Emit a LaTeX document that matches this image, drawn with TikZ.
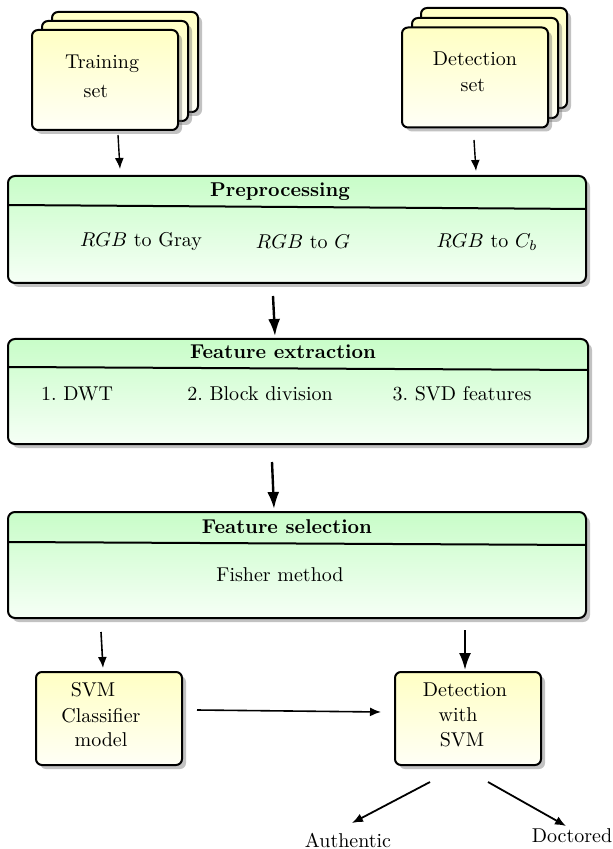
\documentclass[tikz,border=0pt]{standalone}
\usepackage{fontspec}
\usetikzlibrary{shadows,arrows.meta}
\definecolor{ytop}{HTML}{FFFFC4}
\definecolor{ybot}{HTML}{FFFFF6}
\definecolor{gtop}{HTML}{C8FDC8}
\definecolor{gbot}{HTML}{F6FFF6}
\tikzset{
  shad/.style={drop shadow={shadow xshift=2pt, shadow yshift=-2pt, opacity=0.4, fill=black!60}},
  ybox/.style={draw, line width=1pt, rounded corners=3pt, top color=ytop, bottom color=ybot, minimum width=73pt, minimum height=50pt, inner sep=0pt, shad},
  gbox/.style={draw, line width=1pt, rounded corners=3.5pt, top color=gtop, bottom color=gbot, inner sep=0pt, shad},
  txt/.style={inner sep=0pt},
  divl/.style={line width=1pt},
  thinarr/.style={-{Latex[length=5.5pt,width=4.5pt]}, line width=0.7pt},
  thickarr/.style={-{Latex[length=8.5pt,width=6pt]}, line width=1.2pt},
}
\begin{document}
\begin{tikzpicture}[x=0.5pt,y=-0.5pt]
\useasboundingbox (0,0) rectangle (613,849);
% training stack
\node[ybox] (tr3) at (125,62) {};
\node[ybox] (tr2) at (115,71) {};
\node[ybox] (tr1) at (105,80) {};
\node[txt] (trA) at (102,64) {Training};
\node[txt] (trB) at (96,91) {set};
% detection stack
\node[ybox] (de3) at (494,58) {};
\node[ybox] (de2) at (485,68) {};
\node[ybox] (de1) at (475,77.5) {};
\node[txt] (deA) at (475,59) {Detection};
\node[txt] (deB) at (473,85) {set};
% preprocessing
\node[gbox, minimum width=289pt, minimum height=53.5pt] (pre) at (297,229.5) {};
\coordinate (preL) at (8,205);
\coordinate (preR) at (586,209);
\draw[divl] (preL) -- (preR);
\node[txt] (preT) at (280,192) {\textbf{Preprocessing}};
\node[txt] (p1) at (141,242) {$RGB$ to Gray};
\node[txt] (p2) at (303,242) {$RGB$ to $G$};
\node[txt] (p3) at (487,242) {$RGB$ to $C_b$};
% feature extraction
\node[gbox, minimum width=290pt, minimum height=52.5pt] (fex) at (298,391.5) {};
\coordinate (fexL) at (8,367);
\coordinate (fexR) at (588,370);
\draw[divl] (fexL) -- (fexR);
\node[txt] (fexT) at (283,352) {\textbf{Feature extraction}};
\node[txt] (f1) at (77,394) {1.~DWT};
\node[txt] (f2) at (260,394) {2.~Block division};
\node[txt] (f3) at (462,394) {3.~SVD features};
% feature selection
\node[gbox, minimum width=289pt, minimum height=53pt] (fse) at (297,565) {};
\coordinate (fseL) at (8,542);
\coordinate (fseR) at (586,545);
\draw[divl] (fseL) -- (fseR);
\node[txt] (fseT) at (287,527) {\textbf{Feature selection}};
\node[txt] (s1) at (280,575) {Fisher method};
% bottom boxes
\node[ybox, minimum height=46.5pt] (svm) at (109,718.5) {};
\node[txt] (svA) at (93,690) {SVM};
\node[txt] (svB) at (101,716) {Classifier};
\node[txt] (svC) at (101,740) {model};
\node[ybox, minimum height=46.5pt] (det) at (468,718.5) {};
\node[txt] (dtA) at (465,690) {Detection};
\node[txt] (dtB) at (458,715) {with};
\node[txt] (dtC) at (462,740) {SVM};
\node[txt] (auth) at (348,840) {Authentic};
\node[txt] (doct) at (572,836) {Doctored};
% arrows
\coordinate (a1s) at (118,135); \coordinate (a1e) at (120,169);
\coordinate (a2s) at (474,140); \coordinate (a2e) at (476,171);
\coordinate (a3s) at (273,296); \coordinate (a3e) at (275,336);
\coordinate (a4s) at (272,462); \coordinate (a4e) at (274,509);
\coordinate (a5s) at (101,632); \coordinate (a5e) at (103,668);
\coordinate (a6s) at (465,630); \coordinate (a6e) at (465,670);
\coordinate (a7s) at (197,710); \coordinate (a7e) at (381,712);
\coordinate (a8s) at (430,782); \coordinate (a8e) at (352,823);
\coordinate (a9s) at (488,782); \coordinate (a9e) at (566,826);
\draw[thinarr] (a1s) -- (a1e);
\draw[thinarr] (a2s) -- (a2e);
\draw[thickarr] (a3s) -- (a3e);
\draw[thickarr] (a4s) -- (a4e);
\draw[thinarr, line width=0.8pt] (a5s) -- (a5e);
\draw[thickarr, line width=1.1pt] (a6s) -- (a6e);
\draw[thinarr, line width=0.8pt] (a7s) -- (a7e);
\draw[thinarr, line width=0.9pt] (a8s) -- (a8e);
\draw[thinarr, line width=0.9pt] (a9s) -- (a9e);
\end{tikzpicture}
\end{document}
